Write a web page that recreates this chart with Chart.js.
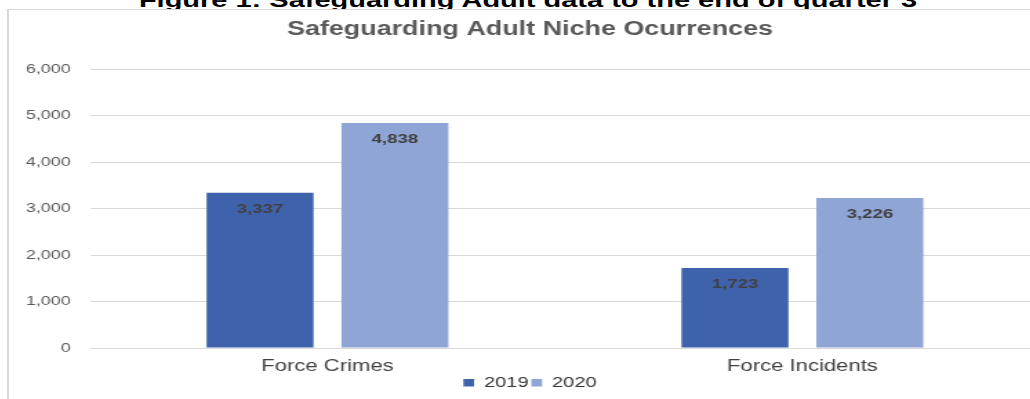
<!DOCTYPE html>
<html>
<head>
<meta charset="utf-8">
<title>Safeguarding Adult Niche Ocurrences</title>
<script src="https://cdn.jsdelivr.net/npm/chart.js@4.4.1/dist/chart.umd.min.js"></script>
<style>
    html, body { margin: 0; padding: 0; background: #fff; width: 1030px; height: 399px; overflow: hidden; }
    #heading {
        position: absolute; left: 0; top: -11px; width: 1056px;
        text-align: center; white-space: nowrap; color: #000;
        font: bold 21px "Liberation Sans", Arial, sans-serif; line-height: 21px;
        transform: scaleX(1.38); transform-origin: 528px 0;
    }
    #frame {
        position: absolute; left: 7px; top: 9px; width: 1100px; height: 400px;
        background: #fff; border-top: 1px solid #d9d9d9; border-left: 2px solid #d9d9d9;
    }
    /* the source picture is stretched sideways, so the whole chart is too */
    #stretch { position: absolute; left: 0; top: 0; transform: scaleX(1.38); transform-origin: 0 0; }
</style>
</head>
<body>
<div id="heading">Figure 1: Safeguarding Adult data to the end of quarter 3</div>
<div id="frame">
    <div id="stretch"><canvas id="myChart" width="760" height="389"></canvas></div>
</div>
<script>
const categories = ['Force Crimes', 'Force Incidents'];
const seriesNames = ['2019', '2020'];
const values2019 = [3337, 1723];
const values2020 = [4838, 3226];
const yMin = 0;
const yMax = 6000;
const yStep = 1000;

const font = '"Liberation Sans", Arial, sans-serif';

// value labels sitting just inside the top of each bar
const barLabels = {
    id: 'barLabels',
    afterDatasetsDraw(chart) {
        const ctx = chart.ctx;
        ctx.save();
        ctx.font = 'bold 13.5px ' + font;
        ctx.fillStyle = '#404040';
        ctx.textAlign = 'center';
        ctx.textBaseline = 'middle';
        chart.data.datasets.forEach((ds, i) => {
            chart.getDatasetMeta(i).data.forEach((bar, j) => {
                ctx.fillText(ds.data[j].toLocaleString('en-US'), bar.x, bar.y + 16);
            });
        });
        ctx.restore();
    }
};

const ctx = document.getElementById('myChart').getContext('2d');
const myChart = new Chart(ctx, {
    type: 'bar',
    data: {
        labels: categories,
        datasets: [
            {
                label: seriesNames[0],
                data: values2019,
                backgroundColor: '#3e63ac',
                categoryPercentage: 0.568,
                barPercentage: 0.793
            },
            {
                label: seriesNames[1],
                data: values2020,
                backgroundColor: '#8fa5d5',
                categoryPercentage: 0.568,
                barPercentage: 0.793
            }
        ]
    },
    options: {
        responsive: false,
        animation: false,
        devicePixelRatio: 1,
        layout: {
            padding: { left: 0, right: 5, top: 0, bottom: -1 }
        },
        scales: {
            x: {
                grid: { display: false, drawTicks: false },
                border: { display: false },
                ticks: {
                    color: '#404040',
                    padding: 11.1,
                    font: { family: font, size: 16, lineHeight: 0.9 }
                },
                // chart.js reserves padding twice; keep the strip tight so the legend sits close
                afterFit: function(scale) {
                    scale.height = 25.5;
                }
            },
            y: {
                min: yMin,
                max: yMax,
                grid: { color: '#d9d9d9', lineWidth: 1, drawTicks: false },
                border: { display: false },
                ticks: {
                    stepSize: yStep,
                    color: '#595959',
                    padding: 14,
                    font: { family: font, size: 13 },
                    callback: function(value) {
                        return value.toLocaleString('en-US');
                    }
                },
                afterFit: function(scale) {
                    scale.width = 58.7;
                }
            },
            // empty strip on the right, only to nudge title and legend off centre like the source
            yRight: {
                position: 'right',
                grid: { display: false, drawTicks: false },
                border: { display: false },
                ticks: { display: false },
                afterFit: function(scale) {
                    scale.width = 8;
                }
            }
        },
        plugins: {
            title: {
                display: true,
                text: 'Safeguarding Adult Niche Ocurrences',
                color: '#595959',
                font: { family: font, size: 19.5, weight: 'bold' },
                padding: { top: 8, bottom: 27.6 }
            },
            legend: {
                position: 'bottom',
                labels: {
                    color: '#333',
                    boxWidth: 7.75,
                    boxHeight: 7.5,
                    padding: 2,
                    font: { family: font, size: 14.5 }
                }
            },
            tooltip: { enabled: false }
        }
    },
    plugins: [barLabels]
});
</script>
</body>
</html>
